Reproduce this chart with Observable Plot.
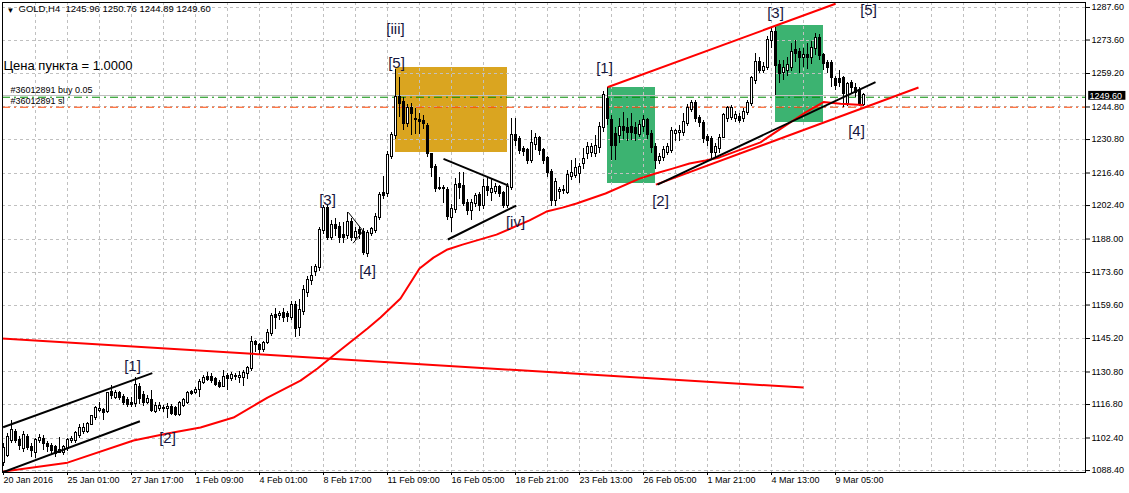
<!DOCTYPE html>
<html><head><meta charset="utf-8">
<script src="https://cdn.jsdelivr.net/npm/d3@7"></script>
<script src="https://cdn.jsdelivr.net/npm/@observablehq/plot@0.6"></script>
<style>
html,body{margin:0;padding:0;background:#fff;}
#chart{width:1129px;height:493px;overflow:hidden;}
</style></head><body><div id="chart"></div>
<script>
// ---- Candles (GOLD, H4), one entry per bar ----
const open = [1092,1094.8,1101.3,1104.9,1101.3,1097.7,1102.7,1098.4,1096.3,1101.5,1101.7,1099.6,1098.7,1098.1,1096.3,1096.3,1097.7,1101.3,1101.3,1103.5,
1105,1105.3,1108.2,1111.3,1114.2,1114.3,1113.9,1122.1,1119.7,1121.4,1119.7,1118.5,1117.3,1117.1,1124.3,1120.7,1117.8,1118.5,1113.9,1115.2,
1115.3,1115.1,1115.7,1115,1112.5,1116.4,1117.8,1122.1,1122.1,1123.1,1126.4,1128.6,1128.5,1127.4,1126,1124.7,1128.8,1127.8,1128.8,1128.5,
1128.3,1130,1132.1,1143.6,1142.2,1140.3,1143.6,1147.2,1155.1,1155.1,1155.8,1155.5,1154.4,1159.4,1150,1157,1165,1170,1174.2,1175.9,
1191.7,1201.0,1188.8,1193.8,1193.1,1189.5,1189.5,1195,1188.8,1191.7,1190.9,1181.9,1190.5,1191.7,1197.4,1207.7,1207.4,1223.5,1232.5,1249.0,
1246.9,1237.6,1244.0,1239.3,1239.1,1238.7,1236.4,1224.3,1218.9,1209.6,1209.8,1208.9,1197.4,1200.5,1211.3,1210.6,1203.4,1200.2,1203.1,1206.7,
1202.4,1210.3,1208.1,1208.6,1210,1207.4,1202.4,1210.0,1232.5,1230.7,1226.4,1226.1,1221.8,1228.6,1231.1,1226.1,1222.5,1216.7,1204.6,1208.6,
1209.0,1208.1,1215,1215.3,1216.0,1220.6,1224.6,1225.4,1224.9,1227.5,1236.1,1248,1239,1233,1232.5,1236.1,1235.4,1235.8,1235.4,1233,
1236.4,1239.0,1233,1227.5,1221.8,1223.2,1225.4,1226.1,1233.5,1234.0,1234.0,1237.9,1243.6,1246.1,1239.7,1237.9,1231.8,1230.7,1225.4,1226.8,
1231.5,1239.7,1240.4,1239.7,1240.4,1239.7,1242.6,1246.1,1256.2,1264.1,1260.5,1261.9,1273.4,1277.0,1262.6,1259.8,1260.5,1261.9,1269.1,1268.4,
1265.9,1266.9,1266.2,1269.8,1274.1,1266.9,1263.4,1263.4,1256.5,1256.5,1256.9,1246.1,1254.7,1252.6,1251.9,1245.96];
const high = [1100,1104.2,1109.9,1106,1103,1105,1104,1100,1102,1104,1103.5,1101,1100,1099,1102.7,1099,1102,1103,1105,1108,
1108.5,1109,1112,1116,1117.8,1115,1122,1125,1123,1122.5,1121,1120,1120,1128.5,1126,1122.5,1120.7,1122.8,1117.5,1117.5,
1116.5,1117.1,1117,1116,1118,1119.5,1122.5,1123,1124,1127.5,1129.5,1130.5,1130,1128.5,1127,1131.5,1130,1130.5,1130.2,1131,
1131.5,1133,1146,1144.5,1143,1144,1149,1156,1158,1157,1158,1157,1161,1161,1162,1168,1172,1176,1177,1193,
1202.5,1203,1196,1197,1195,1195,1199.5,1197,1193,1193,1192.5,1191.5,1193,1199,1208,1215,1225.5,1234,1261,1257.6,
1249,1246,1246.5,1244,1242,1241,1237.5,1225,1220,1214.3,1211,1210,1203,1213.9,1216.7,1216.7,1205,1205,1207.5,1208,
1213.5,1214,1213.5,1212,1211,1208.5,1212,1240,1239.7,1232,1228,1227,1234.7,1233.2,1232,1227,1223.5,1218,1214,1210,
1211,1217.5,1221.8,1222.5,1220.5,1226.8,1229.7,1229,1232.5,1238,1251.5,1253.3,1241,1236,1239.7,1242.6,1240,1241.8,1238,1239,
1241.1,1239.7,1234.5,1229,1225,1228,1229,1236,1235.0,1236.8,1241.8,1246,1247.5,1247.8,1241,1239,1233,1232,1229,1233,
1242,1245,1245.5,1243,1242,1244,1247.5,1258,1268,1266,1264,1275,1278.4,1279,1265,1265,1266,1272,1273.4,1270,
1270,1272,1273,1276.3,1276,1268,1265,1265,1258,1260.5,1258,1255.5,1256,1254.7,1253,1250.76];
const low = [1090,1094.1,1099.9,1100,1097,1096,1097,1094,1093.4,1100,1097,1096,1095,1094,1095.6,1095,1096.5,1100,1100,1102,
1104,1104.5,1108,1110,1113.5,1110,1113,1119,1119,1118.5,1116.5,1115.5,1115.6,1115.5,1117,1116,1116.7,1113.5,1112.8,1114,
1113.5,1110.6,1112,1111.5,1111.5,1115.5,1117,1120.5,1121,1120,1125.5,1126.5,1126,1124.5,1123.5,1124,1122.8,1126.5,1127,1126,
1124.5,1127.5,1131,1139,1138.5,1139,1142.5,1146,1149,1153,1152,1152,1153,1145.8,1146,1155,1163,1168,1172,1174,
1190,1187.5,1187.5,1189,1185.9,1186,1188,1187,1187.5,1188,1181,1180,1189,1190.5,1196,1205,1206,1222,1231,1240.4,
1234.5,1236,1232.5,1233,1233,1235,1223,1214.6,1208,1208.9,1203.1,1196,1190.9,1199,1205,1202,1198,1196,1201.5,1200,
1200.5,1206.5,1204,1207,1206,1201,1201,1209,1228,1224.5,1223.5,1220,1220.5,1226,1224,1220,1214.6,1202,1202,1205,
1207,1207,1213,1214,1212,1218,1222,1223,1223,1225,1234,1237,1221.8,1221.8,1229,1231,1230,1230.5,1230,1231.5,
1234,1231,1225,1218,1220,1221.5,1224,1225,1230,1230,1232,1236.5,1242.5,1238,1236,1228.9,1228,1222,1223,1225,
1233,1238,1239,1238,1237.5,1238,1241,1245,1254.5,1259,1259,1260.5,1270,1249.7,1255,1256.2,1258,1260,1264,1259.1,
1262,1261,1263,1267,1265,1260.5,1259,1253.3,1252,1253,1244.7,1245,1250,1249,1244.8,1244.89];
const close = [1098,1102.7,1105.6,1101.3,1099.1,1103.5,1098.4,1097.0,1101.3,1102,1099.9,1098.7,1097.0,1095.9,1097.0,1098.1,1101.3,1101.8,1104.2,1106.3,
1106.7,1108.2,1111.6,1114.9,1114.6,1113.5,1121.4,1120.7,1121.4,1120,1117.8,1116.8,1117.0,1125.0,1119.2,1117.8,1118.8,1114.2,1116.1,1116.1,
1115.1,1115.7,1112.8,1112.5,1117.1,1118.5,1121.4,1121.4,1122.8,1126.4,1127.8,1127.4,1127.1,1125.4,1124.7,1128.5,1127.8,1129.3,1129.0,1128.8,
1130,1132.1,1143.6,1142.6,1140.3,1142.9,1147.2,1154.6,1154.4,1155.5,1154.4,1154.7,1159.4,1149.3,1157.2,1166,1170,1172,1175.9,1191.7,
1201.0,1188.8,1193.8,1192.4,1188.8,1188.8,1195,1188.8,1190.9,1190.2,1182.3,1190.5,1191.9,1197.4,1206.7,1206.7,1223.9,1232.5,1249.0,1246.4,
1237.6,1244.0,1241.9,1239.5,1238.7,1237.6,1224.6,1218.9,1209.6,1209.8,1209.6,1197.7,1200.5,1211.0,1210.3,1203.4,1200.2,1203.1,1206.3,1202.4,
1210.3,1208.9,1209.3,1210.3,1207.4,1202.4,1210.0,1232.5,1230.4,1226.1,1225.8,1221.8,1228.9,1231.1,1226.1,1221.8,1216.7,1204.6,1212.4,1209,
1208.8,1215.3,1216.0,1218.2,1218.9,1222.2,1227.2,1227.2,1227.8,1236.1,1249.7,1240,1228.2,1228.2,1236.1,1234.7,1234.0,1234.0,1233.5,1236.8,
1239.0,1233.0,1227.5,1221.8,1223.2,1226.1,1227.2,1234.4,1234.4,1234.4,1238.3,1244.0,1246.1,1239.7,1238.3,1231.1,1230.4,1225.4,1227.2,1231.1,
1241.1,1244.0,1244.0,1241.1,1239.0,1242.6,1246.1,1256.9,1264.1,1260.5,1261.9,1273.4,1277.0,1262.6,1259.1,1261.2,1262.6,1268.4,1267.9,1266.2,
1266.9,1265.9,1269.8,1274.1,1266.9,1263.4,1261.9,1257.6,1254.0,1255.5,1250.4,1254.5,1253.3,1251.2,1246.1,1249.60];

// ---- Moving average ----
const maBar = [-0.75,16,32.5,41,49.25,57.5,66,74.25,78.5,82.5,91,94.25,99.25,104,107.5,111,114.75,123.25,131.5,135.75,139.75,143.25,150.5,159,163,167.25,171.5,175.5,179,189.25,194.25,200,205,209.25,214.75];
const maPrice = [1087.8,1091.8,1101.3,1104.3,1106.9,1111.2,1119.8,1127.1,1132.3,1137.9,1149.5,1154.2,1162.4,1175.3,1180.0,1183.5,1185.6,1189.9,1196.0,1199.8,1201.5,1203.3,1207.6,1214.0,1216.2,1218.3,1220.5,1221.8,1223.1,1229.6,1235.4,1241.9,1246.9,1246.2,1245.7];

// ---- Trend lines (bar, price) ----
const lineFromBar  = [-0.75, -0.1, -0.1, 110, 111.1, 151, 163.1, 163.5];
const lineFromPrice= [1145.2, 1107.0, 1087.7, 1222.5, 1187.8, 1253.3, 1211.4, 1211.4];
const lineToBar    = [200, 37.2, 34.1, 126.25, 128.2, 208, 228.75, 218];
const lineToPrice  = [1124.1, 1130.3, 1109.6, 1211.0, 1202.4, 1289.2, 1253.2, 1255.5];
const lineColor    = ["#ff0000","#000000","#000000","#000000","#000000","#ff0000","#ff0000","#000000"];
// thin triangle near [3]
const thinFromBar = [86.2, 87.4];
const thinFromPrice = [1199.5, 1186.2];
const thinToBar = [89.9, 89.9];
const thinToPrice = [1191.4, 1191.4];

// ---- Rectangles ----
const boxStart = [98.1, 151, 193];
const boxEnd   = [125.9, 162.9, 204.9];
const boxHigh  = [1261.6, 1253.3, 1279.8];
const boxLow   = [1225.3, 1211.7, 1238.2];
const boxColor = ["#daa520", "#3cb371", "#3cb371"];

// ---- Wave labels ----
const waveText  = ["[iii]","[5]","[3]","[4]","[iv]","[1]","[2]","[3]","[5]","[4]","[1]","[2]"];
const waveBar   = [98, 98.25, 81, 91, 128, 150.25, 164.25, 193, 216.25, 213.25, 32.25, 41];
const wavePrice = [1278.1, 1263.5, 1204.6, 1174.0, 1195.1, 1261.3, 1204.1, 1285.0, 1286.4, 1234.2, 1133.1, 1102.2];

// ---- Order levels ----
const bidPrice = 1249.6;
const buyPrice = 1249.0;
const slPrice = 1244.7;

// ---- Axis ticks ----
const yTicks = [1287.60,1273.60,1259.20,1244.80,1230.80,1216.40,1202.40,1188.00,1173.60,1159.60,1145.20,1130.80,1116.80,1102.40,1088.40];
const xTickLabels = ["20 Jan 2016","25 Jan 01:00","27 Jan 17:00","1 Feb 09:00","4 Feb 01:00","8 Feb 17:00","11 Feb 09:00","16 Feb 05:00","18 Feb 21:00","23 Feb 13:00","26 Feb 05:00","1 Mar 21:00","4 Mar 13:00","9 Mar 05:00"];
const xTickBars = xTickLabels.map((_, k) => k * 16);
const gridBars = d3.range(8, 271, 8);

const idx = d3.range(open.length);
const up = idx.filter(i => close[i] >= open[i]);
const dn = idx.filter(i => close[i] < open[i]);
const last = open.length - 1;
const lines = lineColor.map((c, k) => ({x1: lineFromBar[k], y1: lineFromPrice[k], x2: lineToBar[k], y2: lineToPrice[k], c}));
const thin = thinFromBar.map((b, k) => ({x1: b, y1: thinFromPrice[k], x2: thinToBar[k], y2: thinToPrice[k]}));
const boxes = boxColor.map((c, k) => ({x1: boxStart[k], x2: boxEnd[k], y1: boxLow[k], y2: boxHigh[k], c}));
const waves = waveText.map((t, k) => ({t, x: waveBar[k], y: wavePrice[k]}));
const ma = maBar.map((b, k) => ({x: b, y: maPrice[k]}));
const fmt = v => v.toFixed(2);
const crisp = "crispEdges";

const chart = Plot.plot({
  width: 1129, height: 493,
  marginLeft: 2, marginRight: 44, marginTop: 2, marginBottom: 21,
  style: {fontFamily: "'Liberation Sans', Arial, sans-serif", fontSize: "9px", background: "#ffffff", color: "#000000"},
  x: {type: "linear", domain: [-0.25, 270.5], axis: null},
  y: {domain: [1087.56, 1289.75], axis: null},
  marks: [
    Plot.rect(boxes, {x1: "x1", x2: "x2", y1: "y1", y2: "y2", fill: d => d.c, shapeRendering: crisp}),
    Plot.ruleX(gridBars, {stroke: "#c0c0c0", strokeDasharray: "3,3", shapeRendering: crisp}),
    Plot.ruleY(yTicks, {stroke: "#c0c0c0", strokeDasharray: "3,3", shapeRendering: crisp}),
    Plot.ruleY([bidPrice], {stroke: "#c0c0c0", shapeRendering: crisp}),
    Plot.ruleY([buyPrice], {stroke: "#008c00", strokeDasharray: "8,4,2,4"}),
    Plot.ruleY([slPrice], {stroke: "#ff4500", strokeDasharray: "8,4,2,4"}),
    Plot.ruleX(idx, {x: i => i, y1: i => low[i], y2: i => high[i], stroke: "#000", shapeRendering: crisp}),
    Plot.rect(up, {x1: i => i - 0.25, x2: i => i + 0.25, y1: i => open[i], y2: i => close[i], fill: "#fff", stroke: "#000", insetTop: -0.5, insetBottom: -0.5, shapeRendering: crisp}),
    Plot.rect(dn, {x1: i => i - 0.25, x2: i => i + 0.25, y1: i => open[i], y2: i => close[i], fill: "#000", stroke: "#000", insetTop: -0.5, insetBottom: -0.5, shapeRendering: crisp}),
    Plot.line(ma, {x: "x", y: "y", stroke: "#ff0000", strokeWidth: 2, clip: true}),
    Plot.link(lines, {x1: "x1", y1: "y1", x2: "x2", y2: "y2", stroke: d => d.c, strokeWidth: 2, clip: true}),
    Plot.link(thin, {x1: "x1", y1: "y1", x2: "x2", y2: "y2", stroke: "#000", strokeWidth: 1}),
    Plot.text(waves, {x: "x", y: "y", text: "t", fontSize: 15, fill: "#16163e", lineAnchor: "middle"}),
    Plot.text(["\u25BC"], {frameAnchor: "top-left", dx: 4, dy: 5, lineAnchor: "top", textAnchor: "start", fontSize: 8}),
    Plot.text([`GOLD,H4  ${fmt(open[last])} ${fmt(high[last])} ${fmt(low[last])} ${fmt(close[last])}`], {frameAnchor: "top-left", dx: 16, dy: 3, lineAnchor: "top", textAnchor: "start", fontSize: 9.5}),
    Plot.text(["Цена пункта = 1.0000"], {frameAnchor: "top-left", dx: 1, dy: 58, lineAnchor: "top", textAnchor: "start", fontSize: 13}),
    Plot.text([buyPrice], {y: d => d, frameAnchor: "left", dx: 8, dy: -7, textAnchor: "start", text: () => "#36012891 buy 0.05", fontSize: 9}),
    Plot.text([slPrice], {y: d => d, frameAnchor: "left", dx: 8, dy: -6.5, textAnchor: "start", text: () => "#36012891 sl", fontSize: 9}),
    Plot.frame({stroke: "#000", shapeRendering: crisp}),
    Plot.axisY({anchor: "right", ticks: yTicks, tickFormat: fmt, tickSize: 4, tickPadding: 2, label: null}),
    Plot.axisX({anchor: "bottom", ticks: xTickBars, tickFormat: d => xTickLabels[xTickBars.indexOf(d)], textAnchor: "start", tickSize: 3, tickPadding: 1, label: null}),
    Plot.rect([bidPrice], {x1: 271.3, x2: 280.6, y1: d => d - 1.9, y2: d => d + 1.9, fill: "#000", clip: false}),
    Plot.text([bidPrice], {x: 271.5, y: d => d, text: fmt, fill: "#fff", textAnchor: "start", fontSize: 9})
  ]
});
document.getElementById("chart").appendChild(chart);
</script>
</body></html>
